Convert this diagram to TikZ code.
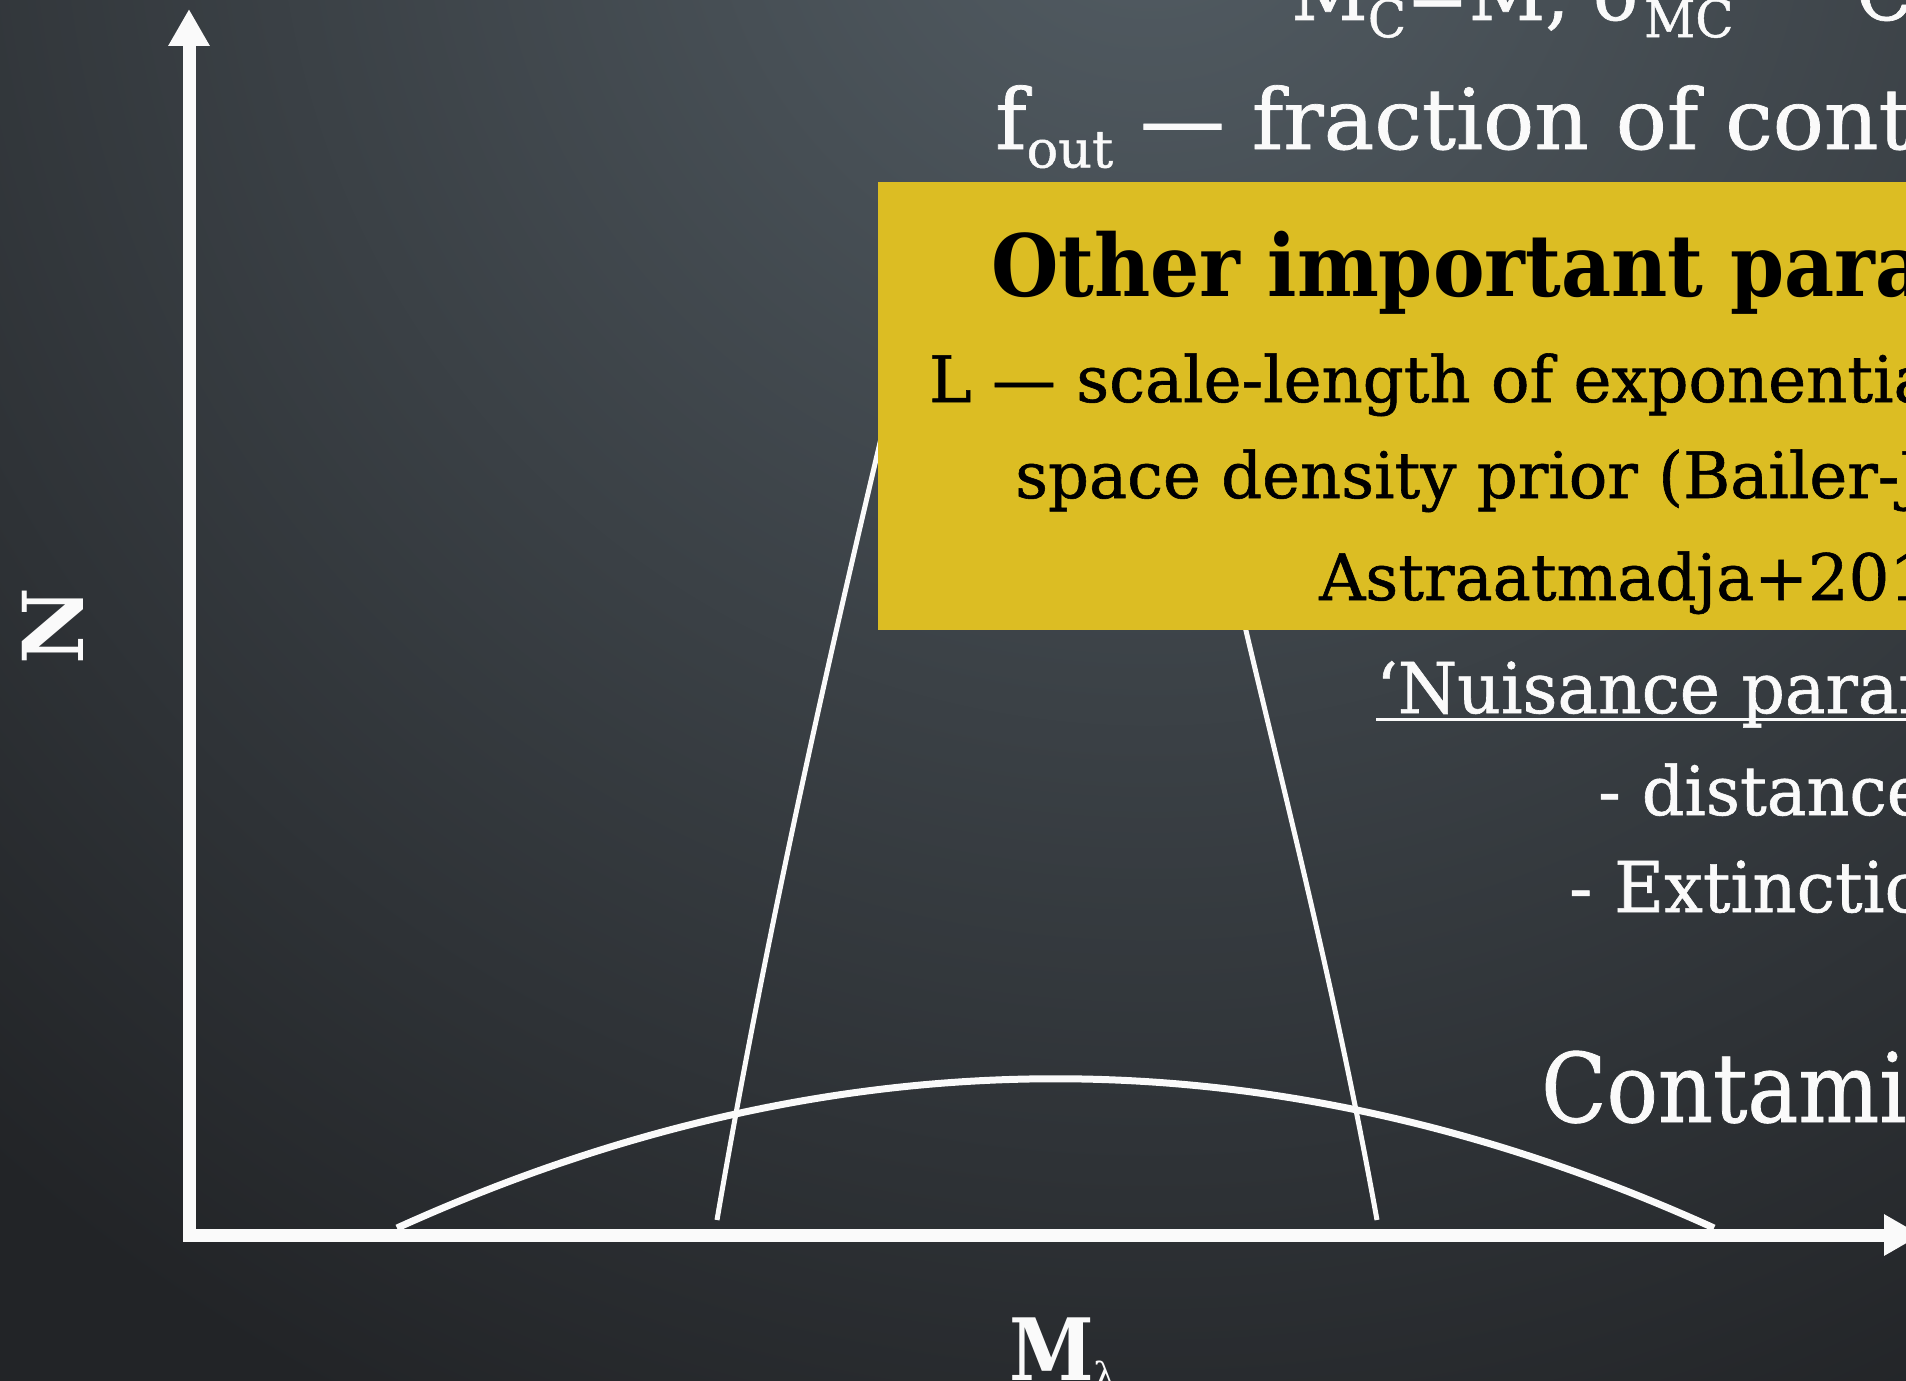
\documentclass[tikz,border=0pt]{standalone}
\usepackage{fontspec}
\usepackage{graphicx}
\setmainfont{DejaVu Serif}
\newfontfamily\slab{DejaVu Serif}[FakeBold=0.9]
\usetikzlibrary{arrows.meta}

\definecolor{bgtop}{HTML}{535D64}
\definecolor{bgbot}{HTML}{222427}
\definecolor{paramgold}{HTML}{DCBD23}
\definecolor{chalk}{HTML}{FAFAFA}

% font size in pt (one pt is one pixel of the slide)
\newcommand\fsz[1]{\fontsize{#1}{#1}\selectfont}
\newcommand\lowsub[2]{\raisebox{-0.22em}{\fsz{#1}#2}}
\newcommand\squeeze[2]{\scalebox{#1}[1]{#2}}

\begin{document}
\begin{tikzpicture}[
    x=1pt, y=-1pt,
    axisline/.style={draw=chalk, line width=13pt,
        {Triangle[length=37pt, width=39pt]}-{Triangle[length=37pt, width=39pt]}},
    distcurve/.style={draw=chalk, line width=6pt},
    slidetext/.style={text=chalk, anchor=base west, inner sep=0pt},
    boxtext/.style={text=black, anchor=base west, inner sep=0pt}
]
\useasboundingbox (0,0) rectangle (1906,1381);
\clip (0,0) rectangle (1906,1381);

% ---------------- background ----------------
\fill[bgbot] (0,0) rectangle (1906,1381);
\shade[inner color=bgtop, outer color=bgbot] (1150,-150) circle [radius=1750pt];

% ---------------- curves ----------------
\draw[distcurve, line width=7pt] (397,1228) .. controls (836,1029) and (1275,1029) .. (1714,1228);
\draw[distcurve, line width=5pt] (717,1220) .. controls (765,940) and (830,650) .. (895,380)
    .. controls (930,240) and (1190,300) .. (1225,540)
    .. controls (1270,740) and (1330,960) .. (1377,1220);

% ---------------- axes ----------------
\coordinate (ytip) at (189,9);
\coordinate (xtip) at (1921,1235);
\draw[axisline] (ytip) |- (xtip);

\node[text=chalk, font=\bfseries\fsz{84}, rotate=90, inner sep=0pt] (ylabel) at (53,626) {N};
\node[slidetext, font=\bfseries\fsz{86}] (xlabel) at (1009,1380)
    {\squeeze{0.89}{M}\raisebox{-0.1em}{\mdseries\fsz{36}λ}};

% ---------------- text above the box ----------------
\node[slidetext, font=\slab\fsz{78}] (mcline) at (1291,20)
    {\squeeze{0.96}{M\lowsub{52}{C}=M, σ\lowsub{52}{MC} \raisebox{10pt}{—} C}};
\node[slidetext, font=\slab\fsz{84}] (foutline) at (995,149)
    {\squeeze{1.01}{f\lowsub{52}{out} — fraction of cont}};

% ---------------- parameter box ----------------
\fill[paramgold] (878,182) rectangle (1950,630);
\node[boxtext, font=\bfseries\fsz{86}] (titleline) at (991,296)
    {\squeeze{0.90}{Other important para}};
\node[boxtext, font=\slab\fsz{64}] (scaleline) at (929,402) {L — scale-length of exponentia};
\node[boxtext, font=\slab\fsz{64}] (priorline) at (1015,498) {space density prior (Bailer-J};
\node[boxtext, font=\slab\fsz{64}] (refline) at (1319,600) {Astraatmadja+201};

% ---------------- text below the box ----------------
\node[slidetext, font=\slab\fsz{70}] (nuisline) at (1376,713) {\squeeze{0.97}{‘Nuisance param}};
\draw[chalk, line width=3pt] ([yshift=-6pt]nuisline.base west) -- ([yshift=-6pt]nuisline.base east);
\node[slidetext, font=\slab\fsz{68}] (distline) at (1598,815) {\squeeze{0.98}{- distance}};
\node[slidetext, font=\slab\fsz{70}] (extline) at (1569,912) {\squeeze{0.98}{- Extinctio}};
\node[slidetext, font=\slab\fsz{96}] (contline) at (1541,1122) {\squeeze{0.89}{Contami}};

\end{tikzpicture}
\end{document}
